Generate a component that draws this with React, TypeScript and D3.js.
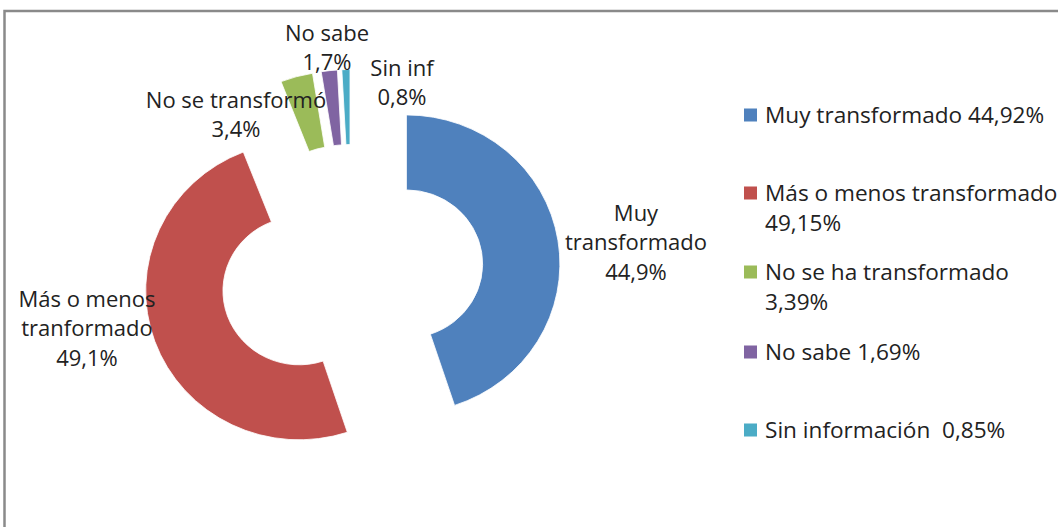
import React, { useRef, useEffect } from 'react';
import { select, pie, arc } from 'd3';

// data
const categories = ['Muy transformado', 'Más o menos transformado', 'No se ha transformado', 'No sabe', 'Sin información'];
const values = [44.92, 49.15, 3.39, 1.69, 0.85];
const colors = ['#4F81BD', '#C0504D', '#9BBB59', '#8064A2', '#4BACC6'];
const legendLabels = [
  ['Muy transformado 44,92%'],
  ['Más o menos transformado', '49,15%'],
  ['No se ha transformado', '3,39%'],
  ['No sabe 1,69%'],
  ['Sin información  0,85%'],
];
const dataLabels = [
  ['Muy', 'transformado', '44,9%'],
  ['Más o menos', 'tranformado', '49,1%'],
  ['No se transformó', '3,4%'],
  ['No sabe', '1,7%'],
  ['Sin inf', '0,8%'],
];

// layout (hand placed, like the dragged labels in the original)
const labelPos = [[636, 213], [87, 299], [236, 100], [327, 33], [402, 68]];
const legendY = [115, 193, 272, 352, 430];

const W = 1058;
const H = 527;
const FONT = '"Open Sans", sans-serif';

const App = () => {
  const svgRef = useRef(null);

  useEffect(() => {
    const svgEl = select(svgRef.current);
    svgEl.selectAll('*').remove();

    // chart border (only top and left visible)
    svgEl.append('path')
      .attr('d', `M4.5,${H} L4.5,11 L${W},11`)
      .attr('fill', 'none')
      .attr('stroke', '#8a8a8a')
      .attr('stroke-width', 2.5);

    const cx = 351.5, cy = 272.5;
    const outerR = 149, innerR = 74, explode = 54;

    const pieGen = pie<number>().sort(null).value(d => d);
    const arcs = pieGen(values);
    const arcGen = arc<any>().innerRadius(innerR).outerRadius(outerR);

    const g = svgEl.append('g')
      .attr('transform', `translate(${cx},${cy}) scale(1.03,1)`);

    g.selectAll('path.slice')
      .data(arcs)
      .enter()
      .append('path')
      .attr('class', 'slice')
      .attr('d', arcGen)
      .attr('fill', (d, i) => colors[i])
      .attr('stroke', '#fff')
      .attr('stroke-width', 0.8)
      .attr('transform', d => {
        const mid = (d.startAngle + d.endAngle) / 2;
        return `translate(${explode * Math.sin(mid)},${-explode * Math.cos(mid)})`;
      });

    // data labels
    dataLabels.forEach((lines, i) => {
      const [x, y] = labelPos[i];
      const t = svgEl.append('text')
        .attr('text-anchor', 'middle')
        .style('font-family', FONT)
        .style('font-size', '22px')
        .attr('fill', '#222');
      lines.forEach((ln, j) => {
        t.append('tspan')
          .attr('x', x)
          .attr('y', y + j * 29.5)
          .attr('dy', '0.35em')
          .text(ln);
      });
    });

    // legend
    const legend = svgEl.append('g');
    categories.forEach((c, i) => {
      const y = legendY[i];
      legend.append('rect')
        .attr('x', 744)
        .attr('y', y - 6.5)
        .attr('width', 13)
        .attr('height', 13)
        .attr('fill', colors[i]);
      const t = legend.append('text')
        .style('font-family', FONT)
        .style('font-size', '22.6px')
        .style('white-space', 'pre')
        .attr('fill', '#222');
      legendLabels[i].forEach((ln, j) => {
        t.append('tspan')
          .attr('x', 765)
          .attr('y', y + j * 30)
          .attr('dy', '0.35em')
          .text(ln);
      });
    });
  }, []);

  return (
    <svg
      ref={svgRef}
      width={W}
      height={H}
      style={{ position: 'absolute', left: 0, top: 0, background: '#fff' }}
    ></svg>
  );
};

export default App;
